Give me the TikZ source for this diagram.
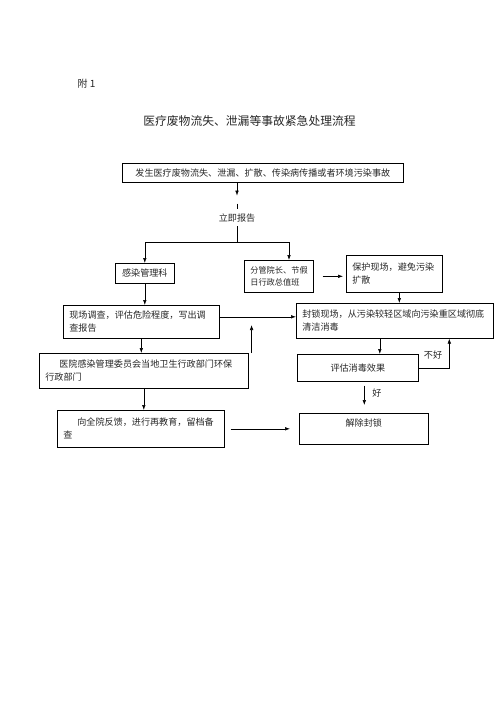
\documentclass[tikz,border=0pt]{standalone}
\usepackage{fontspec}
\usepackage{tikz}
\usetikzlibrary{arrows.meta,positioning,calc}
\newfontfamily\cjk{Noto Sans CJK SC}

\begin{document}
\begin{tikzpicture}[x=1pt, y=-1pt,
  every node/.style={font=\cjk\fontsize{9.1}{13}\selectfont, text=black!85},
  box/.style={draw, line width=0.6pt, anchor=north west, inner xsep=6pt, inner ysep=0pt, align=left},
  arr/.style={-{Latex[length=5pt,width=3.6pt]}, line width=0.6pt}
]
\useasboundingbox (0,0) rectangle (500,707);
\node[anchor=west, font=\cjk\fontsize{10}{12}\selectfont] (fu) at (74,84) {附 1};
\node[font=\cjk\fontsize{11.8}{14}\selectfont] (title) at (249.5,121) {医疗废物流失、泄漏等事故紧急处理流程};

% boxes
\node[box, align=center, text width=269pt, minimum height=19pt] (event) at (122,163) {发生医疗废物流失、泄漏、扩散、传染病传播或者环境污染事故};
\node[inner sep=0pt] (report) at (237,218) {立即报告};
\node[box, align=center, text width=47pt, minimum height=20pt] (gk) at (115,263) {感染管理科};
\node[box, text width=57pt, minimum height=32pt, font=\cjk\fontsize{8.2}{12}\selectfont] (fg) at (244,260) {分管院长、节假\\日行政总值班};
\node[box, text width=84pt, minimum height=37pt] (bh) at (346,255) {保护现场，避免污染\\扩散};
\node[box, text width=144pt, minimum height=33pt] (xd) at (63,305) {现场调查，评估危险程度，写出调\\查报告};
\node[box, text width=185pt, minimum height=35pt] (fs) at (296,303) {封锁现场，从污染较轻区域向污染重区域彻底\\清洁消毒};
\node[box, text width=197pt, minimum height=35pt] (yy) at (39,353) {\hspace*{14pt}医院感染管理委员会当地卫生行政部门环保\\行政部门};
\node[box, align=center, text width=109pt, minimum height=27pt] (pg) at (297,354) {评估消毒效果};
\node[box, text width=155pt, minimum height=37pt] (xq) at (57,410) {\hspace*{14pt}向全院反馈，进行再教育，留档备\\查};
\node[box, align=center, text width=117pt, minimum height=31pt] (jc) at (299,413) {解除封锁\\\mbox{}};

% connectors
\coordinate (split) at (237,242);
\coordinate (splitR) at (289,242);
\draw[arr] (report.north |- event.south) -- ++(0,13);
\draw[line width=0.6pt] ($(report.north)+(0,-10)$) -- ($(report.north)+(0,-5)$);
\draw[line width=0.6pt] ($(report.south)+(0,4)$) -- (split);
\draw[arr] (split) -- (splitR) -- (fg.north -| splitR);
\draw[arr] (split) -- (split -| gk.north) -- (gk.north);
\draw[arr] ([xshift=9pt]fg.east) -- ([xshift=-3pt]fg.east -| bh.west);
\draw[arr] ([xshift=5pt]bh.south) -- ([xshift=5pt]bh.south |- fs.north);
\draw[arr] (gk.south) -- (gk.south |- xd.north);
\draw[arr] ([yshift=5pt]xd.east) -- ([yshift=5pt]xd.east -| fs.west);
\draw[arr] ([xshift=3pt]yy.north east) -- ++(0,-28);
\draw[arr] (xd.south) -- (xd.south |- yy.north);
\draw[arr] (yy.south) -- (yy.south |- xq.north);
\draw[arr] ([xshift=6pt]xq.east) -- ([xshift=-9pt]xq.east -| jc.west);
\draw[arr] ([xshift=22pt]pg.north |- fs.south) -- ([xshift=22pt]pg.north);
\draw[arr] (pg.east) -| ([xshift=54.5pt]fs.south);
\node (buhao) at (433,355) {不好};
\draw[arr] ([xshift=6.5pt,yshift=-4pt]pg.south) -- ([xshift=6.5pt,yshift=8pt]pg.south |- jc.north);
\node (hao) at (377,393) {好};
\end{tikzpicture}
\end{document}
